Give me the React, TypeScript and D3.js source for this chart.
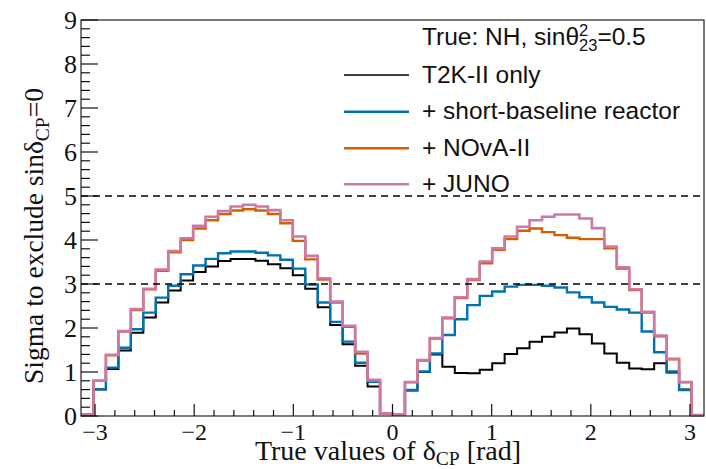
import React from "react";
import * as d3 from "d3";

// Significance to exclude sin(delta_CP)=0, 50 bins over [-pi, pi]
const T2K_ONLY = [
  0.03, 0.6, 1.07, 1.49, 1.89, 2.24, 2.58, 2.85, 3.08, 3.27,
  3.4, 3.52, 3.57, 3.57, 3.53, 3.45, 3.36, 3.2, 2.89, 2.47,
  2.07, 1.63, 1.14, 0.67, 0.06, 0.04, 0.58, 1.0, 1.4, 1.12,
  0.98, 0.97, 1.05, 1.2, 1.41, 1.54, 1.69, 1.8, 1.9, 1.99,
  1.86, 1.65, 1.42, 1.21, 1.08, 1.06, 1.2, 0.99, 0.6, 0.02,
];
const PLUS_REACTOR = [
  0.03, 0.61, 1.1, 1.55, 1.97, 2.35, 2.69, 2.96, 3.22, 3.42,
  3.57, 3.7, 3.74, 3.74, 3.71, 3.65, 3.55, 3.35, 2.99, 2.58,
  2.14, 1.69, 1.21, 0.78, 0.06, 0.04, 0.59, 1.01, 1.42, 1.84,
  2.2, 2.52, 2.73, 2.83, 2.94, 2.98, 2.98, 2.96, 2.92, 2.81,
  2.7, 2.58, 2.48, 2.42, 2.35, 1.92, 1.45, 1.01, 0.59, 0.02,
];
const PLUS_NOVA = [
  0.03, 0.8, 1.38, 1.92, 2.41, 2.88, 3.3, 3.72, 4.0, 4.26,
  4.45, 4.59, 4.67, 4.7, 4.67, 4.59, 4.38, 3.98, 3.56, 3.1,
  2.58, 2.03, 1.42, 0.8, 0.06, 0.04, 0.77, 1.26, 1.76, 2.22,
  2.68, 3.09, 3.47, 3.78, 4.02, 4.21, 4.26, 4.18, 4.11, 4.05,
  4.02, 4.02, 3.81, 3.35, 2.86, 2.35, 1.81, 1.29, 0.77, 0.02,
];
const PLUS_JUNO = [
  0.03, 0.8, 1.39, 1.93, 2.43, 2.89, 3.33, 3.75, 4.04, 4.32,
  4.53, 4.66, 4.76, 4.8, 4.76, 4.68, 4.45, 4.08, 3.64, 3.13,
  2.6, 2.05, 1.46, 0.82, 0.06, 0.04, 0.77, 1.27, 1.77, 2.24,
  2.7, 3.11, 3.51, 3.81, 4.08, 4.3, 4.45, 4.53, 4.58, 4.58,
  4.49, 4.27, 3.85, 3.38, 2.88, 2.37, 1.83, 1.3, 0.77, 0.02,
];

const SERIES_LABELS = ["T2K-II only", "+ short-baseline reactor", "+ NOvA-II", "+ JUNO"];
const SERIES_COLORS = ["#000000", "#0072B2", "#D55E00", "#CC79A7"];
const PLOT_WIDTHS = [2, 2.4, 2.4, 2.6];
const LEGEND_WIDTHS = [1.3, 2.6, 2.6, 2.6];

const X_TICKS = [-3, -2, -1, 0, 1, 2, 3];
const Y_TICKS = [0, 1, 2, 3, 4, 5, 6, 7, 8, 9];
const REFERENCE_LEVELS = [3, 5];

const W = 706;
const H = 469;
const M = { left: 81, right: 2, top: 20, bottom: 53 };

export default function App() {
  const x = d3.scaleLinear().domain([-Math.PI, Math.PI]).range([M.left, W - M.right]);
  const y = d3.scaleLinear().domain([0, 9]).range([H - M.bottom, M.top]);
  const nBins = T2K_ONLY.length;
  const edges = d3.range(nBins + 1).map((i) => -Math.PI + (i * 2 * Math.PI) / nBins);

  const step = d3
    .line<[number, number]>()
    .x((d) => x(d[0]))
    .y((d) => y(d[1]))
    .curve(d3.curveStepAfter);

  const histPath = (vals: number[]) => {
    const pts: [number, number][] = vals.map((v, i) => [edges[i], v]);
    pts.push([edges[nBins], vals[nBins - 1]]);
    return step(pts) || "";
  };

  const all = [T2K_ONLY, PLUS_REACTOR, PLUS_NOVA, PLUS_JUNO];

  const xMinor = d3.range(-3.0, 3.01, 0.2).filter((t) => Math.abs(t - Math.round(t)) > 1e-6);
  const yMinor = d3.range(0, 9.001, 0.2).filter((t) => Math.abs(t - Math.round(t)) > 1e-6);

  const y0 = y(0);
  const serif = "'Liberation Serif', 'DejaVu Serif', serif";
  const sans = "'Liberation Sans', Arial, sans-serif";

  const legendX0 = 344;
  const legendX1 = 409;
  const legendTextX = 422;
  const legendRowY = [75, 111.7, 148.3, 184.3];

  return (
    <svg
      width={W}
      height={H}
      style={{ position: "absolute", left: 0, top: 0, display: "block", background: "#fff" }}
    >
      <rect x={0} y={0} width={W} height={H} fill="#fff" />

      {/* histograms */}
      <g fill="none">
        {all.map((vals, i) => (
          <path
            key={SERIES_LABELS[i]}
            d={histPath(vals)}
            stroke={SERIES_COLORS[i]}
            strokeWidth={PLOT_WIDTHS[i]}
            strokeLinejoin="miter"
          />
        ))}
      </g>

      {/* 3 sigma and 5 sigma reference lines */}
      {REFERENCE_LEVELS.map((lv) => (
        <line
          key={lv}
          x1={M.left}
          x2={W - M.right}
          y1={y(lv)}
          y2={y(lv)}
          stroke="#000"
          strokeWidth={1.3}
          strokeDasharray="7,5"
        />
      ))}

      {/* frame */}
      <rect
        x={M.left}
        y={M.top}
        width={W - M.right - M.left}
        height={H - M.bottom - M.top}
        fill="none"
        stroke="#222"
        strokeWidth={1.2}
      />

      {/* ticks */}
      <g stroke="#111" strokeWidth={1.2}>
        {X_TICKS.map((t) => (
          <line key={"xM" + t} x1={x(t)} x2={x(t)} y1={y0} y2={y0 - 12} />
        ))}
        {xMinor.map((t) => (
          <line key={"xm" + t.toFixed(2)} x1={x(t)} x2={x(t)} y1={y0} y2={y0 - 6} />
        ))}
        {Y_TICKS.map((t) => (
          <line key={"yM" + t} x1={M.left} x2={M.left + 17} y1={y(t)} y2={y(t)} />
        ))}
        {yMinor.map((t) => (
          <line key={"ym" + t.toFixed(2)} x1={M.left} x2={M.left + 9} y1={y(t)} y2={y(t)} />
        ))}
      </g>

      {/* tick labels */}
      <g fontFamily={serif} fill="#111">
        {X_TICKS.map((t) => (
          <text key={"xl" + t} x={x(t)} y={440} fontSize={24} textAnchor="middle">
            {t < 0 ? "\u2212" + Math.abs(t) : String(t)}
          </text>
        ))}
        {Y_TICKS.map((t) => (
          <text
            key={"yl" + t}
            x={77}
            y={y(t)}
            fontSize={26}
            textAnchor="end"
            dominantBaseline="central"
          >
            {t}
          </text>
        ))}
      </g>

      {/* axis titles */}
      <text x={388} y={460} fontFamily={serif} fontSize={28} textAnchor="middle" fill="#111">
        True values of δ
        <tspan fontSize={19.5} dy={5}>CP</tspan>
        <tspan dy={-5}> [rad]</tspan>
      </text>
      <text
        transform={`translate(43,236) rotate(-90)`}
        fontFamily={serif}
        fontSize={27.5}
        textAnchor="middle"
        fill="#111"
      >
        Sigma to exclude sinδ
        <tspan fontSize={19.5} dy={6}>CP</tspan>
        <tspan dy={-6}>=0</tspan>
      </text>

      {/* legend */}
      <g fontFamily={sans} fontSize={24.5} fill="#111">
        <text x={legendTextX} y={45}>
          True: NH, sinθ
          <tspan fontSize={16.5} dy={-9}>2</tspan>
          <tspan fontSize={16.5} dx={-9.2} dy={15}>23</tspan>
          <tspan dy={-6}>=0.5</tspan>
        </text>
        {SERIES_LABELS.map((lab, i) => (
          <g key={lab}>
            <line
              x1={legendX0}
              x2={legendX1}
              y1={legendRowY[i]}
              y2={legendRowY[i]}
              stroke={SERIES_COLORS[i]}
              strokeWidth={LEGEND_WIDTHS[i]}
            />
            <text x={legendTextX} y={legendRowY[i] + 7.5}>
              {lab}
            </text>
          </g>
        ))}
      </g>
    </svg>
  );
}
